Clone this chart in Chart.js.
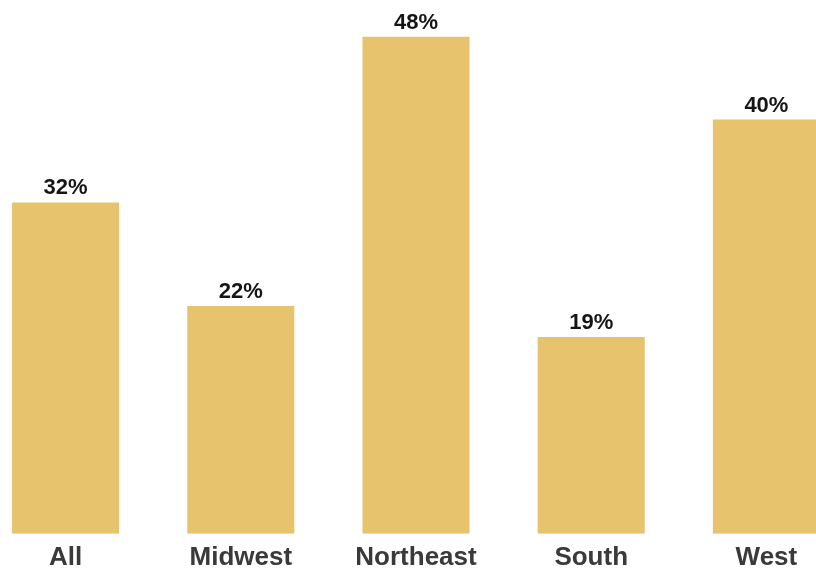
<!DOCTYPE html>
<html lang="en">
<head>
  <meta charset="UTF-8">
  <title>Share by region</title>
  <script src="https://cdn.jsdelivr.net/npm/chart.js"></script>
  <style>
    html, body {
      margin: 0;
      padding: 0;
      background: #ffffff;
      overflow: hidden;
      width: 816px;
      height: 572px;
    }
    #regionChart {
      position: absolute;
      left: -22px;
      top: 0;
    }
  </style>
</head>
<body>
  <canvas id="regionChart" width="876" height="572"></canvas>

  <script>
    // values
    const regions = ['All', 'Midwest', 'Northeast', 'South', 'West'];
    const shares = [32, 22, 48, 19, 40];
    const valueLabels = ['32%', '22%', '48%', '19%', '40%'];

    // draws the percentage above each bar
    const barLabels = {
      id: 'barLabels',
      afterDatasetsDraw(chart) {
        const ctx = chart.ctx;
        const meta = chart.getDatasetMeta(0);
        ctx.save();
        ctx.font = 'bold 22px "Liberation Sans", Arial, sans-serif';
        ctx.fillStyle = '#151515';
        ctx.textAlign = 'center';
        ctx.textBaseline = 'bottom';
        meta.data.forEach((bar, i) => {
          ctx.fillText(valueLabels[i], bar.x, bar.y - 3);
        });
        ctx.restore();
      }
    };

    const ctx = document.getElementById('regionChart').getContext('2d');
    new Chart(ctx, {
      type: 'bar',
      data: {
        labels: regions,
        datasets: [{
          data: shares,
          backgroundColor: '#e6c36c',
          borderWidth: 0,
          categoryPercentage: 1.0,
          barPercentage: 0.611,
        }],
      },
      options: {
        responsive: false,
        maintainAspectRatio: false,
        animation: false,
        layout: {
          padding: { top: 16, left: 0, right: 0, bottom: -9 }
        },
        plugins: {
          legend: { display: false },
          tooltip: { enabled: false },
        },
        scales: {
          x: {
            grid: { display: false, drawTicks: false },
            border: { display: false },
            ticks: {
              color: '#3a3a3a',
              padding: 8,
              font: { family: '"Liberation Sans", Arial, sans-serif', size: 26, weight: 'bold' },
            },
          },
          y: {
            display: false,
            min: 0,
            max: 50,
          },
        },
      },
      plugins: [barLabels],
    });
  </script>
</body>
</html>
